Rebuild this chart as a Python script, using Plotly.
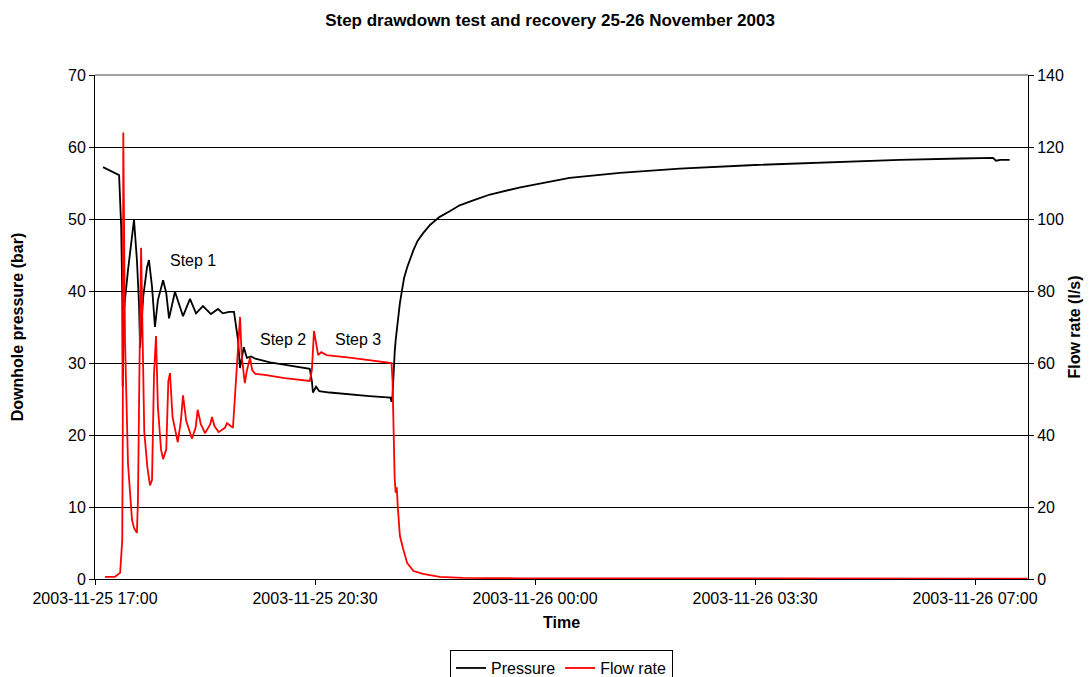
import plotly.graph_objects as go

# Downhole pressure (bar)
p_time = [
    "2003-11-25 17:07:40", "2003-11-25 17:19", "2003-11-25 17:23", "2003-11-25 17:25",
    "2003-11-25 17:26", "2003-11-25 17:26:25", "2003-11-25 17:27:40", "2003-11-25 17:31:30",
    "2003-11-25 17:35:20", "2003-11-25 17:37:15", "2003-11-25 17:40", "2003-11-25 17:42",
    "2003-11-25 17:43", "2003-11-25 17:46", "2003-11-25 17:49:40", "2003-11-25 17:51:30",
    "2003-11-25 17:54:25", "2003-11-25 17:57:15", "2003-11-25 18:00", "2003-11-25 18:05",
    "2003-11-25 18:08", "2003-11-25 18:10:40", "2003-11-25 18:16:20", "2003-11-25 18:24",
    "2003-11-25 18:30:40", "2003-11-25 18:36:25", "2003-11-25 18:43", "2003-11-25 18:50:40",
    "2003-11-25 18:57:25", "2003-11-25 19:02", "2003-11-25 19:08", "2003-11-25 19:12:40",
    "2003-11-25 19:16:30", "2003-11-25 19:18:25", "2003-11-25 19:22", "2003-11-25 19:25",
    "2003-11-25 19:29", "2003-11-25 19:33", "2003-11-25 19:47", "2003-11-25 20:06",
    "2003-11-25 20:25", "2003-11-25 20:27", "2003-11-25 20:28", "2003-11-25 20:31",
    "2003-11-25 20:34", "2003-11-25 20:44", "2003-11-25 21:03", "2003-11-25 21:22",
    "2003-11-25 21:42", "2003-11-25 21:43", "2003-11-25 21:44", "2003-11-25 21:45",
    "2003-11-25 21:46", "2003-11-25 21:47", "2003-11-25 21:49", "2003-11-25 21:51",
    "2003-11-25 21:53", "2003-11-25 21:55", "2003-11-25 21:58", "2003-11-25 22:01",
    "2003-11-25 22:04", "2003-11-25 22:08", "2003-11-25 22:13", "2003-11-25 22:20",
    "2003-11-25 22:29", "2003-11-25 22:39", "2003-11-25 22:48", "2003-11-25 23:03",
    "2003-11-25 23:17", "2003-11-25 23:46", "2003-11-26 00:10", "2003-11-26 00:33",
    "2003-11-26 01:21", "2003-11-26 02:18", "2003-11-26 03:30", "2003-11-26 04:42",
    "2003-11-26 05:48", "2003-11-26 06:46", "2003-11-26 07:17", "2003-11-26 07:20",
    "2003-11-26 07:24", "2003-11-26 07:33",
]
pressure = [
    57.2, 56.4, 56.1, 48.9,
    39.7, 26.7, 37.4, 42.9,
    48.0, 49.9, 44.3, 38.3,
    32.1, 39.2, 43.3, 44.3,
    40.6, 35.0, 38.7, 41.5,
    39.7, 36.2, 39.9, 36.5,
    38.9, 36.9, 37.9, 36.8,
    37.5, 36.9, 37.1, 37.1,
    33.2, 29.3, 32.2, 30.7,
    30.9, 30.6, 30.1, 29.6,
    29.2, 27.5, 25.9, 26.7,
    26.1, 25.9, 25.6, 25.4,
    25.2, 24.6, 25.5, 29.0,
    31.4, 33.2, 36.0, 38.3,
    40.1, 41.8, 43.3, 44.6,
    45.7, 47.0, 48.0, 49.2,
    50.3, 51.1, 51.9, 52.7,
    53.4, 54.4, 55.1, 55.7,
    56.4, 57.0, 57.5, 57.9,
    58.2, 58.4, 58.5, 58.1,
    58.2, 58.2,
]

# Flow rate (l/s)
q_time = [
    "2003-11-25 17:09:30", "2003-11-25 17:19", "2003-11-25 17:24", "2003-11-25 17:26",
    "2003-11-25 17:26:30", "2003-11-25 17:27", "2003-11-25 17:28:40", "2003-11-25 17:31:30",
    "2003-11-25 17:35:20", "2003-11-25 17:37:15", "2003-11-25 17:40", "2003-11-25 17:41",
    "2003-11-25 17:42:30", "2003-11-25 17:44", "2003-11-25 17:47", "2003-11-25 17:50",
    "2003-11-25 17:52:30", "2003-11-25 17:54:25", "2003-11-25 17:56:20", "2003-11-25 17:58:15",
    "2003-11-25 18:00", "2003-11-25 18:03", "2003-11-25 18:05", "2003-11-25 18:08",
    "2003-11-25 18:10", "2003-11-25 18:11:35", "2003-11-25 18:14", "2003-11-25 18:19",
    "2003-11-25 18:22", "2003-11-25 18:24", "2003-11-25 18:27", "2003-11-25 18:32:30",
    "2003-11-25 18:36", "2003-11-25 18:38", "2003-11-25 18:41", "2003-11-25 18:45",
    "2003-11-25 18:50", "2003-11-25 18:51:40", "2003-11-25 18:54", "2003-11-25 18:58",
    "2003-11-25 19:04", "2003-11-25 19:06", "2003-11-25 19:11:40", "2003-11-25 19:15:30",
    "2003-11-25 19:18:25", "2003-11-25 19:20", "2003-11-25 19:23", "2003-11-25 19:25",
    "2003-11-25 19:28", "2003-11-25 19:30", "2003-11-25 19:33", "2003-11-25 19:42",
    "2003-11-25 20:01", "2003-11-25 20:25", "2003-11-25 20:27", "2003-11-25 20:29",
    "2003-11-25 20:31", "2003-11-25 20:33", "2003-11-25 20:36", "2003-11-25 20:41",
    "2003-11-25 21:03", "2003-11-25 21:22", "2003-11-25 21:43", "2003-11-25 21:44",
    "2003-11-25 21:45", "2003-11-25 21:46", "2003-11-25 21:47", "2003-11-25 21:48",
    "2003-11-25 21:49", "2003-11-25 21:51", "2003-11-25 21:54", "2003-11-25 21:58",
    "2003-11-25 22:04", "2003-11-25 22:13", "2003-11-25 22:29", "2003-11-25 22:51",
    "2003-11-25 23:46", "2003-11-26 02:38", "2003-11-26 07:50",
]
flow = [
    0.6, 0.6, 1.7, 10.8,
    40.0, 124.0, 66.0, 32.0,
    16.4, 14.2, 12.8, 22.0,
    60.0, 92.0, 41.0, 31.0,
    26.0, 27.5, 57.0, 67.5,
    48.0, 36.0, 33.3, 36.0,
    55.0, 57.2, 45.0, 38.0,
    44.0, 51.0, 44.0, 39.0,
    42.0, 47.0, 43.0, 40.5,
    43.0, 45.0, 42.5, 40.8,
    42.0, 43.3, 42.0, 61.0,
    72.8, 62.0, 54.4, 58.0,
    61.4, 58.0, 57.0, 56.7,
    55.8, 55.0, 58.0, 68.9,
    65.0, 62.2, 63.0, 62.2,
    61.5, 60.8, 60.0, 55.0,
    40.0, 28.0, 24.0, 25.5,
    20.0, 12.0, 8.5, 4.4,
    2.2, 1.4, 0.6, 0.3,
    0.2, 0.1, 0.1,
]

step_labels = ["Step 1", "Step 2", "Step 3"]
step_time = ["2003-11-25 18:33:30", "2003-11-25 19:59:30", "2003-11-25 21:11"]
step_pressure = [44.2, 33.2, 33.3]

font = "Liberation Sans, Arial, sans-serif"

fig = go.Figure()
fig.add_trace(go.Scatter(x=p_time, y=pressure, name="Pressure", mode="lines",
                         line=dict(color="black", width=1.8)))
fig.add_trace(go.Scatter(x=q_time, y=flow, name="Flow rate", mode="lines",
                         line=dict(color="#ff0000", width=1.8), yaxis="y2"))

for lab, t, p in zip(step_labels, step_time, step_pressure):
    fig.add_annotation(x=t, y=p, text=lab, showarrow=False,
                       font=dict(size=16, color="black", family=font))

# grey plot-area top border as in the original
fig.add_shape(type="line", xref="paper", yref="paper", x0=0, x1=1, y0=1, y1=1,
              line=dict(color="#a0a0a0", width=2), layer="above")

# the page body adds an 8px offset, so the figure is sized to fill the rest
fig.update_layout(
    width=1084, height=669,
    margin=dict(l=87, r=64, t=67, b=98, autoexpand=False),
    paper_bgcolor="white", plot_bgcolor="white",
    font=dict(family=font, size=16, color="black"),
    title=dict(text="<b>Step drawdown test and recovery 25-26 November 2003</b>",
               x=0.5, xanchor="center", y=0.982, yanchor="middle",
               font=dict(size=17, family=font)),
    xaxis=dict(
        title=dict(text="<b>Time</b>", font=dict(size=16), standoff=10),
        type="date",
        range=["2003-11-25 17:00", "2003-11-26 07:50:30"],
        tick0="2003-11-25 17:00", dtick=3.5 * 3600 * 1000,
        tickformat="%Y-%m-%d %H:%M",
        showgrid=False, showline=True, linecolor="black", linewidth=1,
        ticks="outside", ticklen=5, tickcolor="black",
        zeroline=False,
    ),
    yaxis=dict(
        title=dict(text="<b>Downhole pressure (bar)</b>", font=dict(size=16), standoff=40),
        range=[0, 70], dtick=10,
        showgrid=True, gridcolor="black", gridwidth=1,
        showline=True, linecolor="black", linewidth=1,
        ticks="outside", ticklen=5, tickcolor="black",
        zeroline=False,
    ),
    yaxis2=dict(
        title=dict(text="<b>Flow rate (l/s)</b>", font=dict(size=16), standoff=5),
        range=[0, 140], dtick=20, overlaying="y", side="right",
        showgrid=False, showline=True, linecolor="black", linewidth=1,
        ticks="outside", ticklen=5, tickcolor="black",
        zeroline=False,
    ),
    legend=dict(orientation="h", x=0.5, xanchor="center", y=-0.141, yanchor="top",
                bordercolor="black", borderwidth=1, font=dict(size=16),
                itemwidth=30, tracegroupgap=0),
    showlegend=True,
)

fig.write_html("out.html")
